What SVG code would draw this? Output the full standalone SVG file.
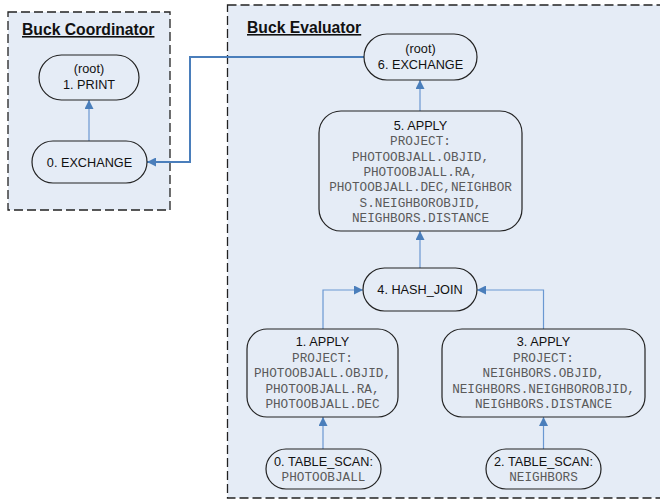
<svg xmlns="http://www.w3.org/2000/svg" width="660" height="504" viewBox="0 0 660 504">
<defs>
<marker id="ah" viewBox="0 0 10 10" refX="10" refY="5" markerWidth="10" markerHeight="9" markerUnits="userSpaceOnUse" orient="auto">
<path d="M0,0 L10,5 L0,10 z" fill="#4a7ebb"/>
</marker>
<style>
.region{fill:#e5ecf6;stroke:#222;stroke-width:1.3;stroke-dasharray:9 4}
.title{font-family:"Liberation Sans",Arial,sans-serif;font-weight:bold;font-size:15.7px;fill:#111;text-decoration:underline}
.node{fill:#e5ecf6;stroke:#222;stroke-width:1.2}
.lbl{font-family:"Liberation Sans",Arial,sans-serif;font-size:12.7px;fill:#111;text-anchor:middle}
.mono{font-family:"Liberation Mono","Courier New",monospace;font-size:12.7px;fill:#5a5a5a;text-anchor:middle}
.conn{fill:none;stroke:#6a98d2;stroke-width:1.2;marker-end:url(#ah)}
.conn2{fill:none;stroke:#4a7ebb;stroke-width:2;marker-end:url(#ah)}
</style>
</defs>
<rect width="660" height="504" fill="#ffffff"/>
<g id="coordinator">
<rect class="region" x="8" y="12" width="162" height="198"/>
<text class="title" x="22" y="35">Buck Coordinator</text>
</g>
<g id="evaluator">
<rect class="region" x="227.5" y="5" width="440" height="493"/>
<text class="title" x="247" y="33">Buck Evaluator</text>
</g>
<g id="connectors">
<path class="conn" d="M89,141 V100"/>
<path class="conn2" d="M364,57 H190 V162 H147"/>
<path class="conn" d="M420,111 V80"/>
<path class="conn" d="M420,268 V231"/>
<path class="conn" d="M323,329 V290 H363"/>
<path class="conn" d="M543.5,329 V290 H477"/>
<path class="conn" d="M323,449 V417"/>
<path class="conn" d="M543.5,449 V417"/>
</g>
<g id="c1-print">
<rect class="node" x="39" y="55" width="100" height="45" rx="22.5"/>
<text class="lbl" x="89" y="73">(root)</text>
<text class="lbl" x="89" y="89">1. PRINT</text>
</g>
<g id="c0-exchange">
<rect class="node" x="32" y="141" width="115" height="42" rx="21"/>
<text class="lbl" x="89.5" y="166.5">0. EXCHANGE</text>
</g>
<g id="e6-exchange">
<rect class="node" x="364" y="34" width="113" height="46" rx="23"/>
<text class="lbl" x="420.5" y="53">(root)</text>
<text class="lbl" x="420.5" y="68.5">6. EXCHANGE</text>
</g>
<g id="e5-apply">
<rect class="node" x="319" y="111" width="203" height="120" rx="22"/>
<text class="lbl" x="420.5" y="129.5">5. APPLY</text>
<text class="mono" x="420.5" y="145">PROJECT:</text>
<text class="mono" x="420.5" y="160.5">PHOTOOBJALL.OBJID,</text>
<text class="mono" x="420.5" y="176">PHOTOOBJALL.RA,</text>
<text class="mono" x="420.5" y="191">PHOTOOBJALL.DEC,NEIGHBOR</text>
<text class="mono" x="420.5" y="206.5">S.NEIGHBOROBJID,</text>
<text class="mono" x="420.5" y="222">NEIGHBORS.DISTANCE</text>
</g>
<g id="e4-hashjoin">
<rect class="node" x="363" y="268" width="114" height="43" rx="21.5"/>
<text class="lbl" x="420" y="294">4. HASH_JOIN</text>
</g>
<g id="e1-apply">
<rect class="node" x="247" y="329" width="151" height="88" rx="20"/>
<text class="lbl" x="322.5" y="345.5">1. APPLY</text>
<text class="mono" x="322.5" y="361.5">PROJECT:</text>
<text class="mono" x="322.5" y="377">PHOTOOBJALL.OBJID,</text>
<text class="mono" x="322.5" y="392.5">PHOTOOBJALL.RA,</text>
<text class="mono" x="322.5" y="408">PHOTOOBJALL.DEC</text>
</g>
<g id="e3-apply">
<rect class="node" x="442" y="329" width="203" height="88" rx="20"/>
<text class="lbl" x="543.5" y="345.5">3. APPLY</text>
<text class="mono" x="543.5" y="361.5">PROJECT:</text>
<text class="mono" x="543.5" y="377">NEIGHBORS.OBJID,</text>
<text class="mono" x="543.5" y="392.5">NEIGHBORS.NEIGHBOROBJID,</text>
<text class="mono" x="543.5" y="408">NEIGHBORS.DISTANCE</text>
</g>
<g id="e0-tablescan">
<rect class="node" x="266" y="449" width="115" height="40" rx="20"/>
<text class="lbl" x="323.5" y="465.5">0. TABLE_SCAN:</text>
<text class="mono" x="323.5" y="481">PHOTOOBJALL</text>
</g>
<g id="e2-tablescan">
<rect class="node" x="486" y="449" width="115" height="40" rx="20"/>
<text class="lbl" x="543.5" y="465.5">2. TABLE_SCAN:</text>
<text class="mono" x="543.5" y="481">NEIGHBORS</text>
</g>
</svg>
